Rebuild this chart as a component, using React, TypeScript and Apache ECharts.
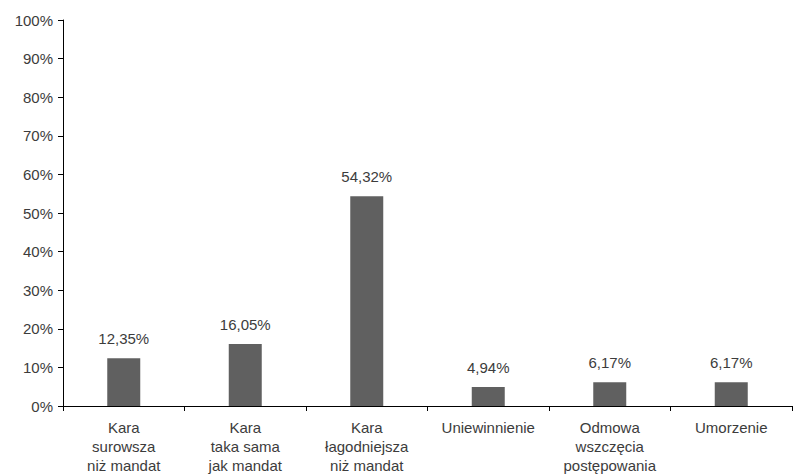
import React, { useEffect, useRef } from "react";
import * as echarts from "echarts";

const categories = [
  "Kara\nsurowsza\nniż mandat",
  "Kara\ntaka sama\njak mandat",
  "Kara\nłagodniejsza\nniż mandat",
  "Uniewinnienie",
  "Odmowa\nwszczęcia\npostępowania",
  "Umorzenie",
];
const values = [12.35, 16.05, 54.32, 4.94, 6.17, 6.17];

export default function App() {
  const ref = useRef<HTMLDivElement>(null);
  useEffect(() => {
    if (!ref.current) return;
    const chart = echarts.init(ref.current, null, { renderer: "svg" });
    const font = "'Liberation Sans', Arial, sans-serif";
    const txt = { color: "#3c3c3c", fontSize: 15, fontFamily: font };
    chart.setOption({
      animation: false,
      grid: { left: 63, right: 1, top: 20, bottom: 68, containLabel: false },
      xAxis: {
        type: "category",
        data: categories,
        axisLine: { lineStyle: { color: "#000", width: 1 } },
        axisTick: { show: true, alignWithLabel: false, length: 5, lineStyle: { color: "#000" } },
        axisLabel: { interval: 0, margin: 12, lineHeight: 19, ...txt },
      },
      yAxis: {
        type: "value",
        min: 0,
        max: 100,
        interval: 10,
        splitLine: { show: false },
        axisLine: { show: true, lineStyle: { color: "#000", width: 1 } },
        axisTick: { show: true, length: 5, lineStyle: { color: "#000" } },
        axisLabel: { margin: 10, ...txt, formatter: (v: number) => v + "%" },
      },
      series: [
        {
          type: "bar",
          data: values,
          barWidth: 33,
          itemStyle: { color: "#606060" },
          label: {
            show: true,
            position: "top",
            distance: 12,
            ...txt,
            formatter: (p: any) => p.value.toFixed(2).replace(".", ",") + "%",
          },
        },
      ],
    });
    return () => chart.dispose();
  }, []);
  return <div ref={ref} style={{ width: 793, height: 475, position: "absolute", left: 0, top: 0 }} />;
}
